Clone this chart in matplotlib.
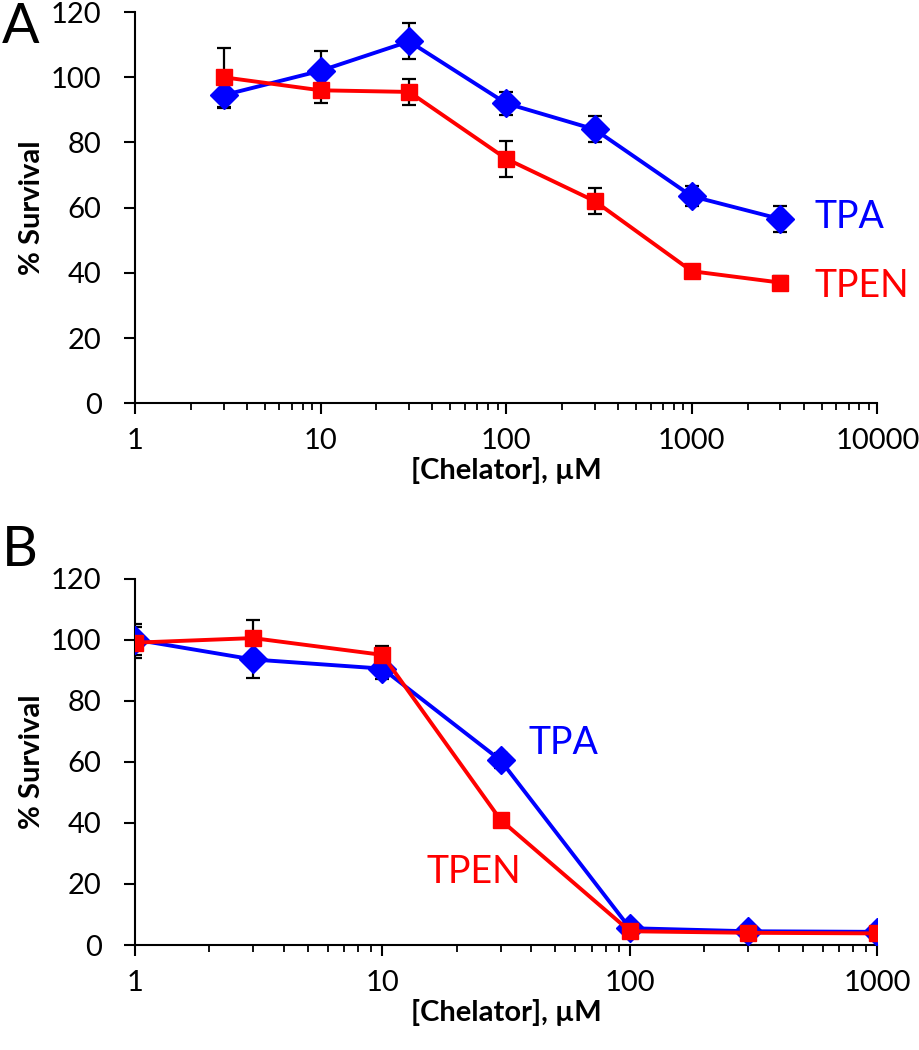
import matplotlib
matplotlib.use("Agg")
import matplotlib.pyplot as plt
from matplotlib.ticker import LogLocator, NullFormatter, FixedLocator

plt.rcParams['font.family'] = ['Lato', 'DejaVu Sans']

# panel A
conc_a = [3, 10, 30, 100, 300, 1000, 3000]
tpa_a = [94.5, 102, 111, 92, 84, 63.5, 56.5]
tpa_a_err = [4, 6, 5.5, 3.5, 4, 3, 4]
tpen_a = [100, 96, 95.5, 75, 62, 40.5, 37]
tpen_a_err = [9, 4, 4, 5.5, 4, 1, 2]

# panel B
conc_b = [1, 3, 10, 30, 100, 300, 1000]
tpa_b = [100, 93.5, 90.5, 60.5, 5.5, 4.5, 4.3]
tpa_b_err = [5, 6, 3.5, 2.5, 1, 1, 1]
tpen_b = [99, 100.5, 95, 41, 4.5, 4, 3.8]
tpen_b_err = [5, 6, 3, 1, 1, 1, 1]

blue = '#0000ff'
red = '#ff0000'

fig = plt.figure(figsize=(9.2, 10.5), dpi=100)
axA = fig.add_axes([0.1467, 0.616, 0.807, 0.3725])
axB = fig.add_axes([0.1467, 0.100, 0.807, 0.349])


def draw_series(ax, x, y, err, color, marker, ms):
    ax.errorbar(x, y, yerr=err, fmt='none', ecolor='black', elinewidth=1.6,
                capsize=5, capthick=1.6, zorder=2)
    ax.plot(x, y, color=color, lw=2.8, marker=marker, ms=ms,
            mfc=color, mec=color, zorder=3)


def style_axes(ax, xmax):
    ax.set_xscale('log')
    ax.set_xlim(1, xmax)
    ax.set_ylim(0, 120)
    ax.yaxis.set_major_locator(FixedLocator(range(0, 121, 20)))
    ax.xaxis.set_major_locator(LogLocator(base=10, numticks=10))
    ax.xaxis.set_minor_locator(LogLocator(base=10, subs=range(2, 10), numticks=50))
    ax.xaxis.set_minor_formatter(NullFormatter())
    ax.set_xticklabels([str(int(v)) for v in ax.get_xticks()])
    ax.set_xlim(1, xmax)
    ax.spines['top'].set_visible(False)
    ax.spines['right'].set_visible(False)
    for s in ('left', 'bottom'):
        ax.spines[s].set_linewidth(1.5)
    ax.tick_params(axis='both', which='major', direction='out', length=8,
                   width=1.5, labelsize=21)
    ax.tick_params(axis='x', which='minor', direction='out', length=5, width=1.3)
    ax.tick_params(axis='x', pad=10)
    ax.tick_params(axis='y', pad=16)
    ax.set_ylabel('% Survival', fontsize=21, fontweight='bold', labelpad=4)
    ax.set_xlabel('[Chelator], \u00b5M', fontsize=21, fontweight='bold', labelpad=2)


draw_series(axA, conc_a, tpa_a, tpa_a_err, blue, 'D', 14)
draw_series(axA, conc_a, tpen_a, tpen_a_err, red, 's', 12)
style_axes(axA, 10000)
axA.text(4600, 57, 'TPA', color=blue, fontsize=27, va='center', ha='left')
axA.text(4600, 36, 'TPEN', color=red, fontsize=27, va='center', ha='left')

draw_series(axB, conc_b, tpa_b, tpa_b_err, blue, 'D', 14)
draw_series(axB, conc_b, tpen_b, tpen_b_err, red, 's', 12)
style_axes(axB, 1000)
axB.text(39, 66, 'TPA', color=blue, fontsize=27, va='center', ha='left')
axB.text(15, 24, 'TPEN', color=red, fontsize=27, va='center', ha='left')

fig.text(0.002, 0.998, 'A', fontsize=40, va='top', ha='left')
fig.text(0.002, 0.500, 'B', fontsize=40, va='top', ha='left')

fig.savefig('out.png', dpi=100)
